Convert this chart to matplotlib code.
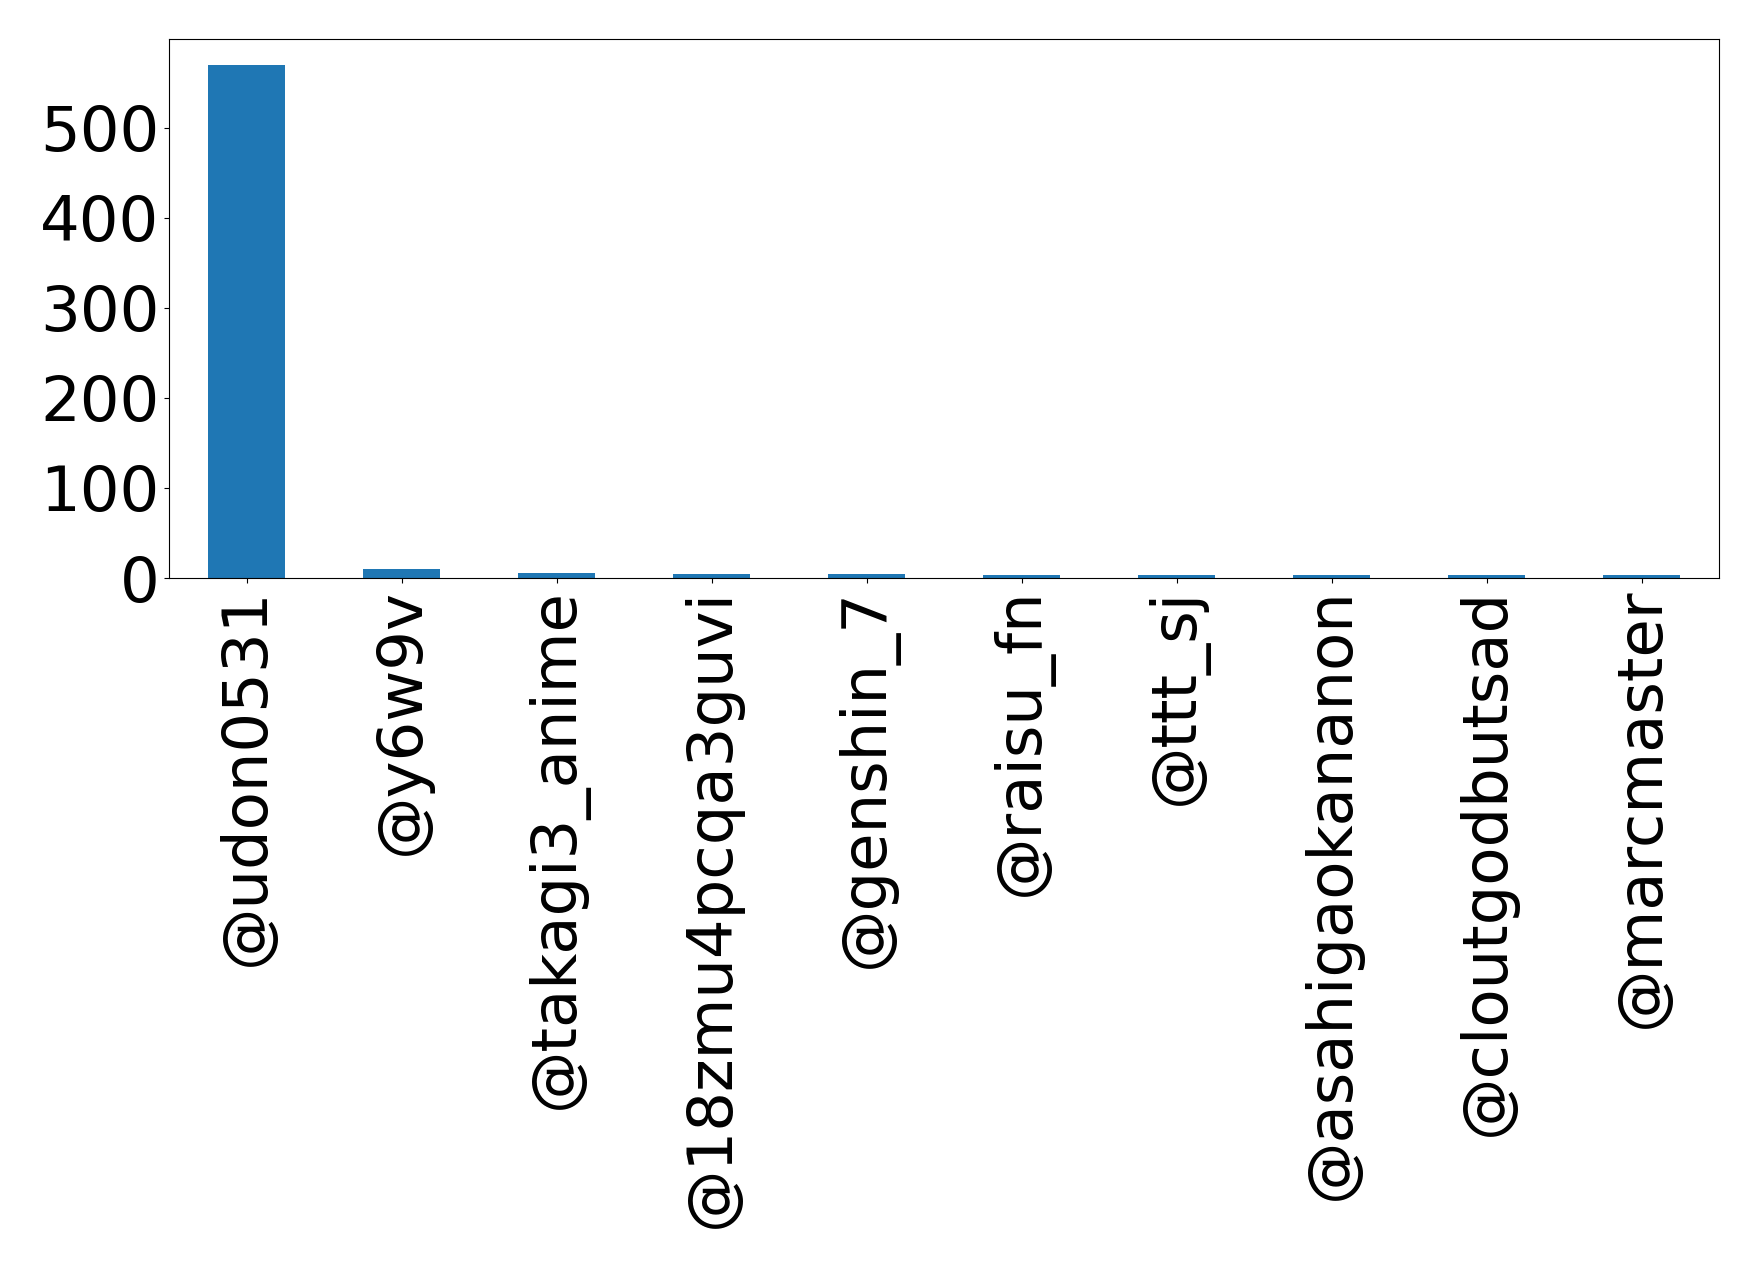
import matplotlib
matplotlib.use("Agg")
import matplotlib.pyplot as plt

users = ["@udon0531", "@y6w9v", "@takagi3_anime", "@18zmu4pcqa3guvi", "@genshin_7",
         "@raisu_fn", "@ttt_sj", "@asahigaokananon", "@cloutgodbutsad", "@marcmaster"]
counts = [570, 10, 5, 4, 4, 3, 3, 3, 3, 3]

fig = plt.figure(figsize=(17.59, 12.68), dpi=100)
ax = fig.add_axes([169/1759, 1-578/1268, (1719-169)/1759, (578-39)/1268])
ax.bar(range(len(users)), counts, width=0.5, color="#1f77b4")
ax.set_xlim(-0.5, len(users)-0.5)
ax.set_xticks(range(len(users)))
ax.set_xticklabels(users, rotation=90, fontsize=45)
ax.tick_params(axis="y", labelsize=45)
ax.set_yticks([0, 100, 200, 300, 400, 500])

fig.savefig("out.png", dpi=100)
